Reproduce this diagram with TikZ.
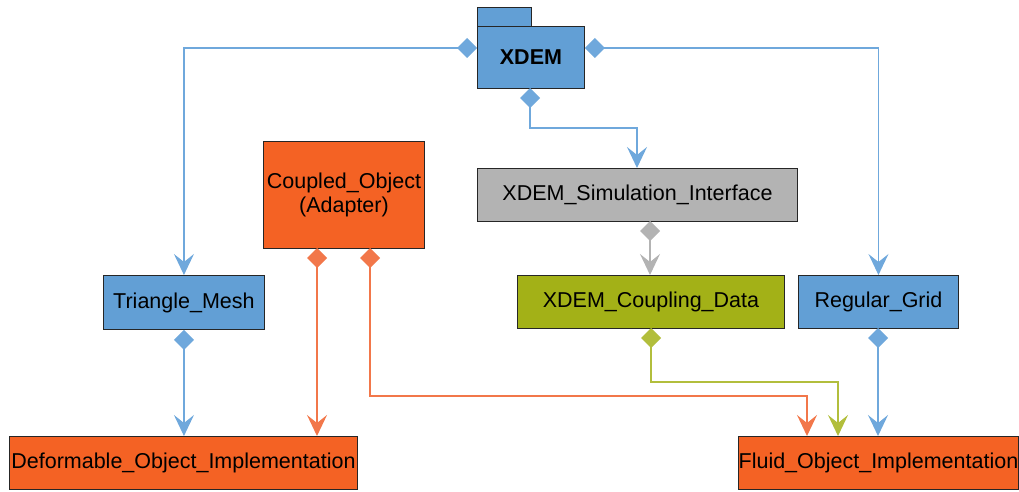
\documentclass[tikz,border=0pt]{standalone}
\usepackage{fontspec}
\setmainfont{Liberation Sans}
\usetikzlibrary{arrows.meta}
\definecolor{cblue}{HTML}{629FD5}
\definecolor{lblue}{HTML}{6FA8DC}
\definecolor{corange}{HTML}{F46224}
\definecolor{lorange}{HTML}{F2774A}
\definecolor{cgray}{HTML}{B3B3B3}
\definecolor{colive}{HTML}{A3B117}
\definecolor{lolive}{HTML}{B2BE3C}
\begin{document}
\begin{tikzpicture}[x=1pt,y=-1pt,
  box/.style={draw=black!85,line width=0.9pt,inner sep=0pt,anchor=north west,font=\fontsize{21.5}{25}\selectfont,align=center},
  link/.style={line width=1.2pt,{Diamond[length=20pt,width=20pt]}-{Stealth[length=21pt,width=20pt,inset=8pt]}}]
\useasboundingbox (0,0) rectangle (1019,492);
% package
\draw[draw=black!85,fill=cblue,line width=0.9pt] (477,7) rectangle (531,26);
\node[box,fill=cblue,minimum width=107pt,minimum height=62pt,font=\fontsize{21.5}{25}\selectfont\bfseries] (xdem) at (477,26) {XDEM};
\node[box,fill=corange,minimum width=161pt,minimum height=107pt] (coupled) at (263,141) {Coupled\_Object\\[-1pt](Adapter)};
\node[box,fill=cgray,minimum width=320pt,minimum height=53pt] (sim) at (477,168) {XDEM\_Simulation\_Interface};
\node[box,fill=cblue,minimum width=161pt,minimum height=54pt] (tri) at (103,275) {Triangle\_Mesh};
\node[box,fill=colive,minimum width=267pt,minimum height=53pt] (cdata) at (517,275) {XDEM\_Coupling\_Data};
\node[box,fill=cblue,minimum width=160pt,minimum height=53pt] (grid) at (798,275) {Regular\_Grid};
\node[box,fill=corange,minimum width=348pt,minimum height=53pt] (deform) at (9,436) {Deformable\_Object\_Implementation};
\node[box,fill=corange,minimum width=280pt,minimum height=53pt] (fluid) at (738,436) {Fluid\_Object\_Implementation};
% connectors
\draw[link,draw=lblue] (xdem.west|-0,48) -| (tri.north);
\draw[link,draw=lblue] (xdem.east|-0,48) -| (grid.north);
\draw[link,draw=lblue] (530,88) -- (530,128) -| (637,168);
\draw[link,draw=cgray] (650,221) -- (650,275);
\draw[link,draw=lblue] (tri.south) -- (tri.south|-deform.north);
\draw[link,draw=lorange] (317,248) -- (317,436);
\draw[link,draw=lorange] (370,248) -- (370,396) -| (807,436);
\draw[link,draw=lolive] (651,328) -- (651,382) -| (838,436);
\draw[link,draw=lblue] (878,328) -- (878,436);
\end{tikzpicture}
\end{document}
